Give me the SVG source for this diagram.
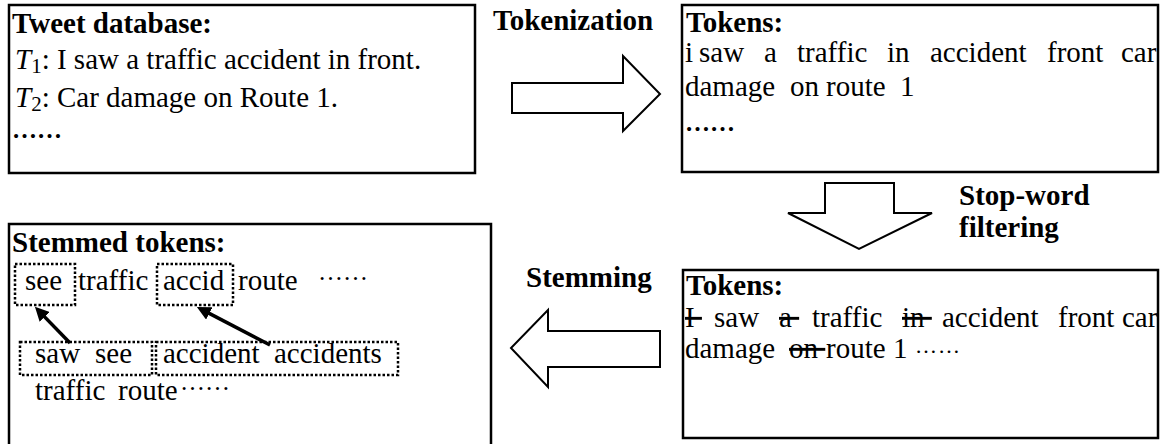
<svg xmlns="http://www.w3.org/2000/svg" width="1166" height="444" viewBox="0 0 1166 444">
<style>
text{font-family:"Liberation Serif","Times New Roman",serif;font-size:29px;fill:#000}
.b{font-weight:bold}
.i{font-style:italic}
.d{font-size:25px;font-weight:bold}
.box{fill:#fff;stroke:#000;stroke-width:2.5}
.dot{fill:none;stroke:#000;stroke-width:2.5;stroke-dasharray:2.5 2}
.blk{fill:#fff;stroke:#000;stroke-width:2}
.arr{fill:none;stroke:#000;stroke-width:3.5;marker-end:url(#ah)}
.s{text-decoration:line-through}
</style>
<defs>
<marker id="ah" viewBox="0 0 10 10" refX="2" refY="5" markerWidth="4" markerHeight="4" orient="auto" markerUnits="strokeWidth"><path d="M0,0 L10,5 L0,10 z" fill="#000"/></marker>
</defs>

<g id="node-tweet-database">
<rect class="box" x="9" y="5" width="466" height="168"/>
<text class="b" x="12" y="33">Tweet database:</text>
<text x="15" y="69"><tspan class="i">T</tspan><tspan font-size="21" dy="4">1</tspan><tspan dy="-4">: I saw a traffic accident in front.</tspan></text>
<text x="15" y="107"><tspan class="i">T</tspan><tspan font-size="21" dy="4">2</tspan><tspan dy="-4">: Car damage on Route 1.</tspan></text>
<text class="d" x="12" y="138">……</text>
</g>

<g id="node-tokens">
<rect class="box" x="682" y="5" width="476" height="167"/>
<text class="b" x="686" y="32">Tokens:</text>
<text y="62"><tspan x="685">i</tspan><tspan x="699">saw</tspan><tspan x="764">a</tspan><tspan x="797">traffic</tspan><tspan x="887">in</tspan><tspan x="930">accident</tspan><tspan x="1047">front</tspan><tspan x="1121">car</tspan></text>
<text y="96"><tspan x="685">damage</tspan><tspan x="790">on</tspan><tspan x="826">route</tspan><tspan x="900">1</tspan></text>
<text class="d" x="685" y="131">……</text>
</g>

<g id="node-filtered-tokens">
<rect class="box" x="683" y="270" width="475" height="168"/>
<text class="b" x="686" y="295">Tokens:</text>
<text y="327" xml:space="preserve"><tspan x="685" class="s">I </tspan><tspan x="714">saw</tspan><tspan x="779" class="s">a </tspan><tspan x="812">traffic</tspan><tspan x="902" class="s">in </tspan><tspan x="942">accident</tspan><tspan x="1058">front</tspan><tspan x="1122">car</tspan></text>
<text y="358" xml:space="preserve"><tspan x="685">damage</tspan><tspan x="789" class="s">on </tspan><tspan x="826">route</tspan><tspan x="893">1</tspan><tspan x="915" dy="-5" font-size="22" letter-spacing="1">……</tspan></text>
</g>

<g id="node-stemmed-tokens">
<rect class="box" x="9" y="224" width="482" height="230"/>
<text class="b" x="12" y="252">Stemmed tokens:</text>
<rect class="dot" x="15" y="264" width="60" height="41"/>
<rect class="dot" x="157" y="264" width="76" height="41"/>
<text y="290"><tspan x="25">see</tspan><tspan x="78">traffic</tspan><tspan x="163">accid</tspan><tspan x="238">route</tspan><tspan x="318" dy="-10" font-size="25">……</tspan></text>
<rect class="dot" x="20" y="342" width="132" height="33"/>
<rect class="dot" x="156" y="342" width="242" height="33"/>
<text y="363"><tspan x="35">saw</tspan><tspan x="95">see</tspan><tspan x="163">accident</tspan><tspan x="274">accidents</tspan></text>
<text y="400"><tspan x="35">traffic</tspan><tspan x="118">route</tspan><tspan x="180" dy="-10" font-size="25">……</tspan></text>
</g>

<g id="connectors">
<polygon class="blk" points="512,83 623,83 623,56 660,94 623,131 623,113 512,113"/>
<text class="b" x="493" y="30">Tokenization</text>
<polygon class="blk" points="825,183 894,183 894,213 932,213 859,249 788,213 825,213"/>
<text class="b" x="959" y="205">Stop-word</text>
<text class="b" x="959" y="237">filtering</text>
<polygon class="blk" points="660,331 660,367 548,367 548,387 511,348 548,310 548,331"/>
<text class="b" x="526" y="287">Stemming</text>
<line class="arr" x1="70" y1="343" x2="42.7" y2="314.9"/>
<line class="arr" x1="270" y1="345" x2="206.8" y2="312.1"/>
</g>
</svg>
